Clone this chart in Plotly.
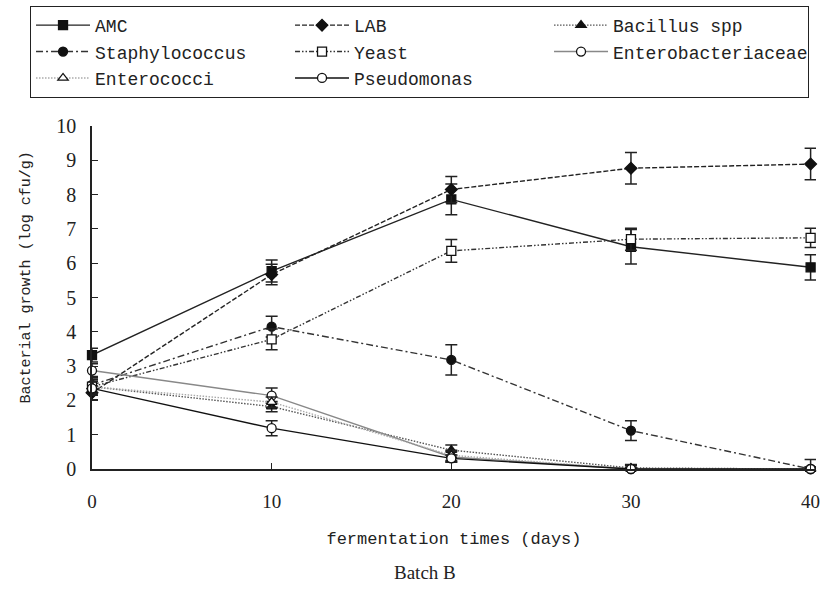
import plotly.graph_objects as go

days = [0, 10, 20, 30, 40]

series_names = ["AMC", "LAB", "Bacillus spp", "Staphylococcus", "Yeast",
                "Enterobacteriaceae", "Enterococci", "Pseudomonas"]

amc = [3.32, 5.77, 7.86, 6.48, 5.88]
amc_err = [0.2, 0.32, 0.45, 0.5, 0.37]

lab = [2.22, 5.67, 8.15, 8.77, 8.89]
lab_err = [0.2, 0.3, 0.38, 0.46, 0.46]

bacillus = [2.4, 1.82, 0.55, 0.03, 0.0]
bacillus_err = [0.2, 0.15, 0.15, 0.1, 0.05]

staph = [2.45, 4.15, 3.18, 1.12, 0.0]
staph_err = [0.25, 0.3, 0.44, 0.29, 0.28]

yeast = [2.4, 3.78, 6.36, 6.70, 6.74]
yeast_err = [0.25, 0.3, 0.33, 0.32, 0.28]

entero_bact = [2.87, 2.14, 0.35, 0.0, 0.0]
entero_bact_err = [0.2, 0.22, 0.15, 0.12, 0.05]

enterococci = [2.4, 1.95, 0.4, 0.0, 0.0]
enterococci_err = [0.2, 0.15, 0.15, 0.1, 0.05]

pseudo = [2.35, 1.19, 0.31, 0.0, 0.0]
pseudo_err = [0.2, 0.22, 0.1, 0.05, 0.05]

values = [amc, lab, bacillus, staph, yeast, entero_bact, enterococci, pseudo]
errors = [amc_err, lab_err, bacillus_err, staph_err, yeast_err,
          entero_bact_err, enterococci_err, pseudo_err]

styles = [
    dict(color="#222222", dash="solid", symbol="square", fill="#111111"),
    dict(color="#222222", dash="5px,2px", symbol="diamond", fill="#111111"),
    dict(color="#555555", dash="1.5px,1.5px", symbol="triangle-up", fill="#111111"),
    dict(color="#333333", dash="7px,3px,2px,3px", symbol="circle", fill="#111111"),
    dict(color="#333333", dash="5px,2px,1.5px,2px,1.5px,2px", symbol="square", fill="white"),
    dict(color="#888888", dash="solid", symbol="circle", fill="white"),
    dict(color="#aaaaaa", dash="1.5px,1.5px", symbol="triangle-up", fill="white"),
    dict(color="#111111", dash="solid", symbol="circle", fill="white"),
]

fig = go.Figure()
for name, vals, errs, st in zip(series_names, values, errors, styles):
    minus = [min(e, v) for v, e in zip(vals, errs)]
    fig.add_trace(go.Scatter(
        x=days, y=vals, name=name, mode="lines+markers",
        line=dict(color=st["color"], dash=st["dash"], width=1.4),
        marker=dict(symbol=st["symbol"], size=9, color=st["fill"],
                    line=dict(color="#111111", width=1.3)),
        error_y=dict(type="data", array=errs, arrayminus=minus, visible=True,
                     color="#222222", thickness=1.5, width=6),
        cliponaxis=False,
    ))

fig.update_layout(
    width=825, height=589,
    margin=dict(l=92, r=9, t=126, b=120, autoexpand=False),
    paper_bgcolor="white", plot_bgcolor="white",
    font=dict(family="Liberation Mono", size=18, color="#222222"),
    showlegend=True,
    legend=dict(
        orientation="h", x=-0.0856, y=1.35, xanchor="left", yanchor="top",
        bgcolor="white", bordercolor="#222222", borderwidth=1,
        entrywidth=190, entrywidthmode="pixels",
        font=dict(family="Liberation Mono", size=18, color="#222222"),
        itemwidth=54,
    ),
    xaxis=dict(
        range=[0, 40.3], tickvals=[0, 10, 20, 30, 40],
        showgrid=False, zeroline=False,
        showline=True, linecolor="#222222", linewidth=1.5,
        ticks="inside", ticklen=6, tickcolor="#222222", tickwidth=1.2,
        tickfont=dict(family="Liberation Serif", size=19, color="#222222"),
        ticklabelstandoff=14,
        title=dict(text="fermentation times (days)", standoff=22,
                   font=dict(family="Liberation Mono", size=17, color="#222222")),
    ),
    yaxis=dict(
        range=[0, 10], tickvals=list(range(0, 11)),
        showgrid=False, zeroline=False,
        showline=True, linecolor="#222222", linewidth=1.5,
        ticks="inside", ticklen=6, tickcolor="#222222", tickwidth=1.2,
        tickfont=dict(family="Liberation Serif", size=20, color="#222222"),
        ticklabelstandoff=10,
    ),
    annotations=[
        dict(text="Bacterial growth (log cfu/g)", xref="paper", yref="paper",
             x=-0.0905, y=0.56, xanchor="center", yanchor="middle",
             textangle=-90, showarrow=False,
             font=dict(family="Liberation Mono", size=15, color="#222222")),
        dict(text="Batch B", xref="paper", yref="paper", x=0.46, y=-0.303,
             xanchor="center", yanchor="middle", showarrow=False,
             font=dict(family="Liberation Serif", size=19, color="#222222")),
    ],
)

fig.write_html("out.html", config={"displayModeBar": False},
               post_script="document.body.style.margin='0';document.body.style.padding='0';")
